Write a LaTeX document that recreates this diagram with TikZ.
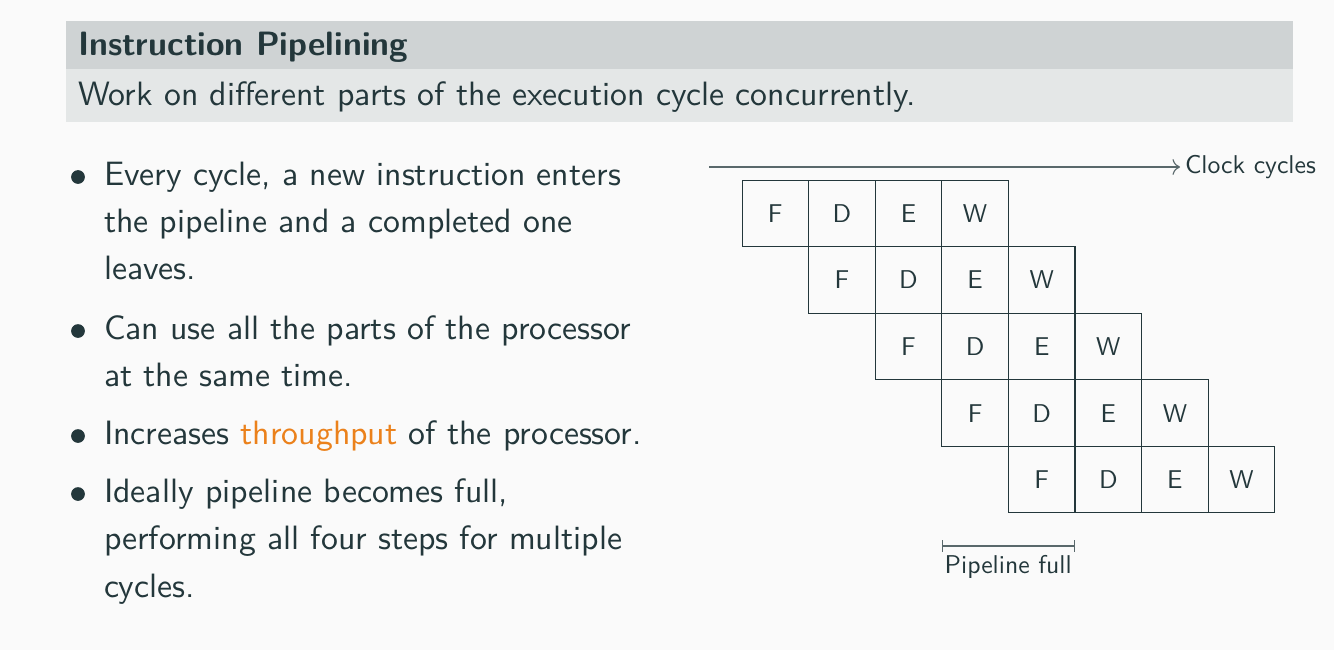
\documentclass[tikz,border=0pt]{standalone}
\usetikzlibrary{arrows.meta}
\definecolor{fgc}{HTML}{23373B}
\definecolor{bgc}{HTML}{FAFAFA}
\definecolor{alertc}{HTML}{EB811B}
\colorlet{titlebg}{bgc!80!fgc}
\colorlet{bodybg}{bgc!90!fgc}
\begin{document}
\begin{tikzpicture}[x=0.3134pt,y=-0.3134pt,
  txt/.style={anchor=base west,inner sep=0pt,outer sep=0pt,text=fgc,font=\fontsize{10.58}{12}\selectfont\sffamily},
  smalltxt/.style={txt,scale=0.762},
  bul/.style={circle,fill=fgc,minimum size=4.3pt,inner sep=0pt},
  cell/.style={draw=fgc,line width=0.35pt,minimum size=27.33pt,inner sep=0pt,scale=0.762,text=fgc,font=\fontsize{10.58}{12}\selectfont\sffamily},
  conn/.style={draw=fgc!75!bgc,line width=0.35pt}]
\fill[bgc] (0,0) rectangle (1334,650);
\useasboundingbox (0,0) rectangle (1334,650);
% header block
\fill[titlebg] (66,21) rectangle (1293,68.5);
\fill[bodybg] (66,68.5) rectangle (1293,122);
\node[txt,font=\fontsize{10.58}{12}\selectfont\sffamily\bfseries] (title) at (78,55) {Instruction Pipelining};
\node[txt] (sub) at (78,105) {Work on different parts of the execution cycle concurrently.};
% bullets
\node[bul] (b1) at (78,177) {};
\node[txt] (l11) at (104,185) {Every cycle, a new instruction enters};
\node[txt] (l12) at (104,232) {the pipeline and a completed one};
\node[txt] (l13) at (104,279) {leaves.};
\node[bul] (b2) at (78,331) {};
\node[txt] (l21) at (104,339) {Can use all the parts of the processor};
\node[txt] (l22) at (104,386) {at the same time.};
\node[bul] (b3) at (78,436) {};
\node[txt] (l31) at (104,444) {Increases \textcolor{alertc}{throughput} of the processor.};
\node[bul] (b4) at (78,494) {};
\node[txt] (l41) at (104,502) {Ideally pipeline becomes full,};
\node[txt] (l42) at (104,549.5) {performing all four steps for multiple};
\node[txt] (l43) at (104,597) {cycles.};
% clock arrow
\coordinate (a0) at (709,167);
\coordinate (a1) at (1180,167);
\node[smalltxt] (clk) at (1185,173) {Clock cycles};
\draw[conn,->] (a0) -- (a1);
% pipeline cells
\foreach \r in {0,...,4}{
  \foreach \c/\s [count=\k] in {0/F,1/D,2/E,3/W}{
    \node[cell] (c\r\k) at ({775.3+66.6*(\r+\c)},{213.3+66.6*\r}) {\s};
  }
}
% pipeline full bracket
\coordinate (p0) at (941.6,546);
\coordinate (p1) at (1074.8,546);
\draw[conn,{Bar[width=3.6pt]}-{Bar[width=3.6pt]}] (p0) -- (p1);
\node[smalltxt,anchor=base] (pf) at (1008.2,573) {Pipeline full};
\end{tikzpicture}
\end{document}
